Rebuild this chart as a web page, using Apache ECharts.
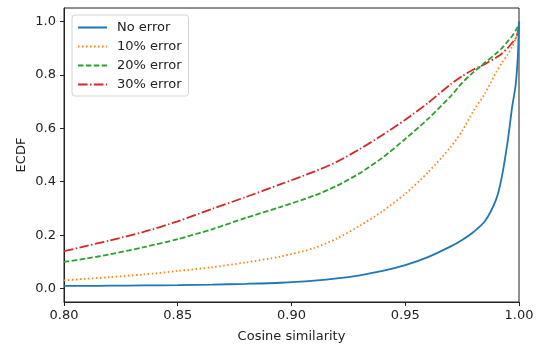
<!DOCTYPE html>
<html>
<head>
<meta charset="utf-8">
<script src="https://cdn.jsdelivr.net/npm/echarts@6/dist/echarts.min.js"></script>
<style>
  html, body { margin: 0; padding: 0; background: #fff; }
  #chart { width: 541px; height: 348px; }
</style>
</head>
<body>
<div id="chart"></div>
<script>
// cosine similarity sample points (x) shared by all curves
const xs = [0.80, 0.81, 0.82, 0.835, 0.85, 0.865, 0.88, 0.895, 0.91, 0.92, 0.93, 0.94, 0.95,
  0.96, 0.97, 0.975, 0.98, 0.985, 0.99, 0.9925, 0.995, 0.997, 0.9985, 0.9995, 0.9999, 1.0];

const noError = [0.010, 0.010, 0.011, 0.012, 0.013, 0.015, 0.018, 0.022, 0.030, 0.038, 0.050, 0.066, 0.088,
  0.118, 0.158, 0.182, 0.212, 0.252, 0.335, 0.42, 0.55, 0.68, 0.76, 0.87, 0.97, 1.0];
const err10 = [0.031, 0.037, 0.043, 0.053, 0.066, 0.080, 0.098, 0.120, 0.152, 0.188, 0.235, 0.29, 0.355,
  0.435, 0.53, 0.59, 0.665, 0.73, 0.81, 0.845, 0.875, 0.905, 0.935, 0.96, 0.975, 1.0];
const err20 = [0.100, 0.113, 0.128, 0.155, 0.185, 0.222, 0.265, 0.305, 0.348, 0.385, 0.432, 0.49, 0.56,
  0.635, 0.72, 0.77, 0.81, 0.845, 0.88, 0.90, 0.925, 0.945, 0.965, 0.98, 0.99, 1.0];
const err30 = [0.140, 0.160, 0.180, 0.212, 0.252, 0.298, 0.343, 0.390, 0.438, 0.475, 0.522, 0.575, 0.632,
  0.695, 0.765, 0.795, 0.82, 0.84, 0.865, 0.88, 0.90, 0.92, 0.935, 0.96, 0.98, 1.0];

const xTicks = [0.80, 0.85, 0.90, 0.95, 1.00];
const yTicks = [0.0, 0.2, 0.4, 0.6, 0.8, 1.0];

const seriesNames = ['No error', '10% error', '20% error', '30% error'];
const seriesValues = [noError, err10, err20, err30];
const colors = ['#1f77b4', '#ff7f0e', '#2ca02c', '#d62728'];
const dashes = ['solid', [1.5, 2.5], [5.5, 2.4], [9.6, 2.4, 1.5, 2.4]];

const chart = echarts.init(document.getElementById('chart'));
const font = 'DejaVu Sans';

const option = {
  animation: false,
  textStyle: { fontFamily: font },
  grid: {
    left: 64, right: 22, top: 8, bottom: 46,
    show: true, borderColor: '#222', borderWidth: 1
  },
  legend: {
    left: 72, top: 15,
    orient: 'vertical',
    itemWidth: 29, itemHeight: 14, itemGap: 6,
    padding: [6, 7, 5, 5],
    backgroundColor: 'rgba(255,255,255,0.8)',
    borderColor: '#d4d4d4', borderWidth: 1, borderRadius: 3,
    itemStyle: { opacity: 0 },
    textStyle: { fontFamily: font, fontSize: 13, color: '#222', padding: [0, 0, 0, 5] },
    data: seriesNames
  },
  xAxis: {
    type: 'value', min: 0.8, max: 1.0,
    name: 'Cosine similarity', nameLocation: 'middle', nameGap: 28,
    nameMoveOverlap: false,
    nameTextStyle: { fontFamily: font, fontSize: 13, color: '#222' },
    axisLine: { onZero: false, lineStyle: { color: '#222', width: 1 } },
    axisTick: { show: true, length: 4, customValues: xTicks, lineStyle: { color: '#222' } },
    axisLabel: {
      customValues: xTicks, margin: 7, fontSize: 13, color: '#222', fontFamily: font,
      formatter: v => Number(v).toFixed(2)
    },
    splitLine: { show: false }
  },
  yAxis: {
    type: 'value', min: -0.05, max: 1.05,
    name: 'ECDF', nameLocation: 'middle', nameGap: 36,
    nameMoveOverlap: false,
    nameTextStyle: { fontFamily: font, fontSize: 13, color: '#222' },
    axisLine: { show: true, onZero: false, lineStyle: { color: '#222', width: 1 } },
    axisTick: { show: true, length: 4, customValues: yTicks, lineStyle: { color: '#222' } },
    axisLabel: {
      customValues: yTicks, margin: 8, fontSize: 13, color: '#222', fontFamily: font,
      formatter: v => Number(v).toFixed(1)
    },
    splitLine: { show: false }
  },
  series: seriesNames.map((name, i) => ({
    name: name,
    type: 'line',
    data: xs.map((x, j) => [x, seriesValues[i][j]]),
    symbol: 'none',
    smooth: 0.25,
    color: colors[i],
    lineStyle: { color: colors[i], width: 1.8, type: dashes[i] },
    z: 10 - i
  }))
};

chart.setOption(option);
</script>
</body>
</html>
